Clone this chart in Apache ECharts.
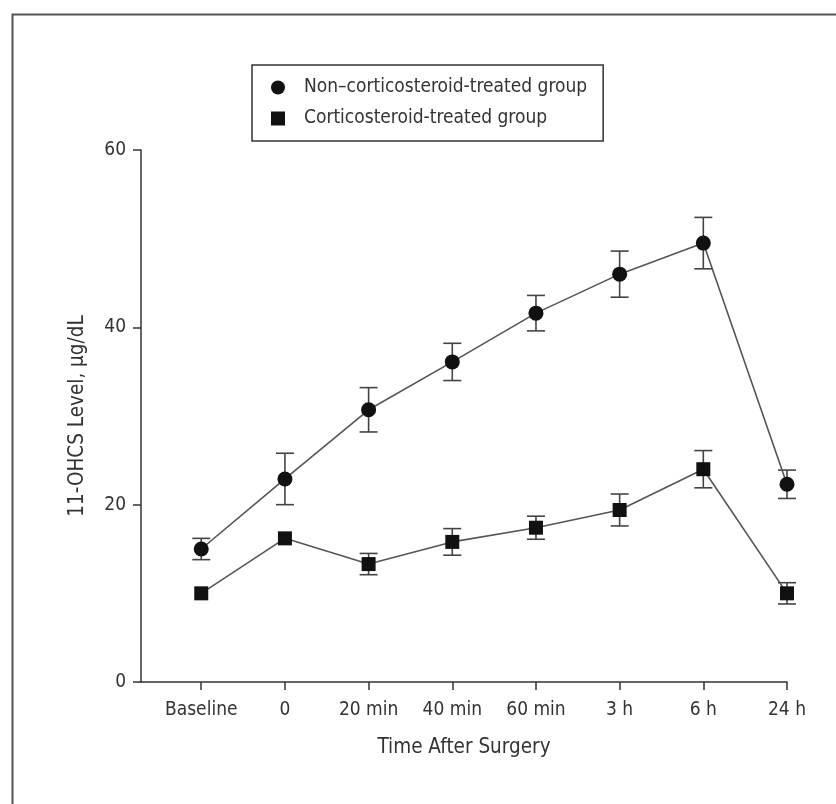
<!DOCTYPE html>
<html>
<head>
<meta charset="utf-8">
<script src="https://cdn.jsdelivr.net/npm/echarts@6/dist/echarts.min.js"></script>
<style>html,body{margin:0;padding:0;background:#fff;}#c{width:836px;height:804px;}</style>
</head>
<body>
<div id="c"></div>
<script>
var categories = ['Baseline', '0', '20 min', '40 min', '60 min', '3 h', '6 h', '24 h'];
var nonTreatedMean = [15.0, 22.9, 30.7, 36.1, 41.6, 46.0, 49.5, 22.3];
var nonTreatedErr = [1.2, 2.9, 2.5, 2.1, 2.0, 2.6, 2.9, 1.6];
var treatedMean = [10.0, 16.2, 13.3, 15.8, 17.4, 19.4, 24.0, 10.0];
var treatedErr = [0, 0, 1.2, 1.5, 1.3, 1.8, 2.1, 1.2];
var yTicks = [0, 20, 40, 60];
var seriesNames = ['Non\u2013corticosteroid-treated group', 'Corticosteroid-treated group'];

var FONT = '"Liberation Sans Narrow", "DejaVu Sans Condensed", "Liberation Sans", sans-serif';
var catIdx = categories.map(function (c, i) { return i; });

function pts(means) { return means.map(function (v, i) { return [i, v]; }); }
function errData(means, errs) {
  return means.map(function (v, i) { return [i, v - errs[i], v + errs[i]]; });
}
function errRender(params, api) {
  var x = api.value(0), lo = api.value(1), hi = api.value(2);
  if (hi - lo <= 0) return null;
  var pLo = api.coord([x, lo]), pHi = api.coord([x, hi]);
  var w = 9;
  var st = { stroke: '#444', lineWidth: 1.6 };
  return {
    type: 'group',
    children: [
      { type: 'line', shape: { x1: pLo[0], y1: pLo[1], x2: pHi[0], y2: pHi[1] }, style: st },
      { type: 'line', shape: { x1: pLo[0] - w, y1: pLo[1], x2: pLo[0] + w, y2: pLo[1] }, style: st },
      { type: 'line', shape: { x1: pHi[0] - w, y1: pHi[1], x2: pHi[0] + w, y2: pHi[1] }, style: st }
    ]
  };
}

var chart = echarts.init(document.getElementById('c'), null, { renderer: 'canvas' });
chart.setOption({
  backgroundColor: '#fff',
  animation: false,
  graphic: [{
    type: 'rect', left: 10, top: 12, shape: { width: 1000, height: 1000 },
    style: { fill: 'none', stroke: '#555', lineWidth: 2 }, silent: true
  }],
  legend: {
    left: 252, top: 65, orient: 'vertical',
    borderColor: '#333', borderWidth: 1.5,
    padding: [13, 16, 13, 19],
    itemWidth: 14, itemHeight: 14, itemGap: 12,
    textStyle: { fontFamily: FONT, fontSize: 19, color: '#333', padding: [0, 0, 0, 14] },
    data: [
      { name: seriesNames[0], icon: 'circle' },
      { name: seriesNames[1], icon: 'rect' }
    ]
  },
  grid: { left: 141, right: 49, top: 150, bottom: 122 },
  xAxis: {
    type: 'value', min: -0.72, max: 7,
    splitLine: { show: false },
    axisLine: { show: true, onZero: false, lineStyle: { color: '#333', width: 1.5 } },
    axisTick: { show: true, length: 8, inside: false, customValues: catIdx, lineStyle: { color: '#333', width: 1.5 } },
    axisLabel: {
      customValues: catIdx, margin: 19, fontFamily: FONT, fontSize: 19, color: '#333',
      formatter: function (v) { return categories[Math.round(v)]; }
    },
    name: 'Time After Surgery', nameLocation: 'middle', nameGap: 55,
    nameTextStyle: { fontFamily: FONT, fontSize: 20.5, color: '#333' }
  },
  yAxis: {
    type: 'value', min: 0, max: 60, interval: 20,
    splitLine: { show: false },
    axisLine: { show: true, onZero: false, lineStyle: { color: '#333', width: 1.5 } },
    axisTick: { show: true, length: 8, inside: false, lineStyle: { color: '#333', width: 1.5 } },
    axisLabel: {
      margin: 15, fontFamily: FONT, fontSize: 19, color: '#333',
      formatter: function (v) { return yTicks.indexOf(v) >= 0 ? String(v) : ''; }
    },
    name: '11-OHCS Level, \u03bcg/dL', nameLocation: 'middle', nameGap: 53, nameRotate: 90,
    nameTextStyle: { fontFamily: FONT, fontSize: 20.5, color: '#333' }
  },
  series: [
    {
      name: seriesNames[0] + ' err', type: 'custom', renderItem: errRender,
      data: errData(nonTreatedMean, nonTreatedErr), encode: { x: 0, y: [1, 2] }, z: 1, silent: true
    },
    {
      name: seriesNames[1] + ' err', type: 'custom', renderItem: errRender,
      data: errData(treatedMean, treatedErr), encode: { x: 0, y: [1, 2] }, z: 1, silent: true
    },
    {
      name: seriesNames[0], type: 'line', data: pts(nonTreatedMean),
      symbol: 'circle', symbolSize: 15, showAllSymbol: true,
      lineStyle: { color: '#555', width: 1.6 },
      itemStyle: { color: '#111', borderWidth: 0 }, z: 3
    },
    {
      name: seriesNames[1], type: 'line', data: pts(treatedMean),
      symbol: 'rect', symbolSize: 14, showAllSymbol: true,
      lineStyle: { color: '#555', width: 1.6 },
      itemStyle: { color: '#111', borderWidth: 0 }, z: 3
    }
  ]
});
</script>
</body>
</html>
